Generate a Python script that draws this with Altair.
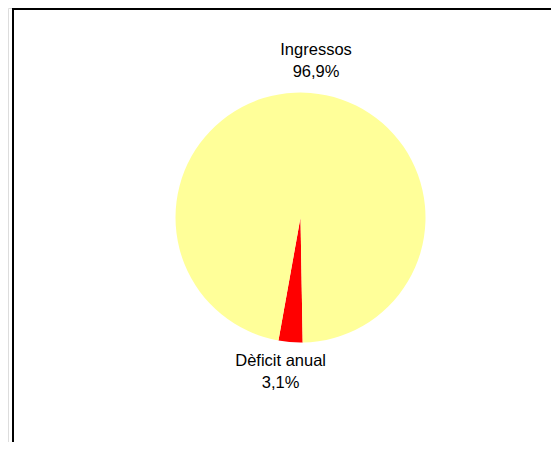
import math
import altair as alt
import pandas as pd

# ---- data ----
categories = ["Dèficit anual", "Ingressos"]
shares = [3.1, 96.9]
pct_labels = ["3,1%", "96,9%"]
slice_colors = ["#FF0000", "#FFFF99"]
order_idx = [0, 1]

df = pd.DataFrame({
    "cat": categories,
    "share": shares,
    "pct": pct_labels,
    "idx": order_idx,
})
df["label"] = df["cat"] + "\n" + df["pct"]

W, H = 543, 434
CX, CY = 292.5, 209.5
R = 125
start = math.radians(179)

theta = alt.Theta("share:Q", stack=True,
                  scale=alt.Scale(range=[start, start + 2 * math.pi]))
color = alt.Color("cat:N", scale=alt.Scale(domain=categories, range=slice_colors),
                  legend=None)
order = alt.Order("idx:Q")

base = alt.Chart(df)

pie = base.mark_arc(outerRadius=R, stroke=None).encode(
    theta=theta, color=color, order=order,
    x=alt.value(CX), y=alt.value(CY),
)

txt_kw = dict(font="Liberation Sans", fontSize=16.5, lineHeight=22,
              lineBreak="\n", align="center", baseline="middle", color="#000000")

# labels use the full stack for their angle; each layer shows one of them
lab_top = base.mark_text(radius=157, dx=3, dy=-11, **txt_kw).encode(
    theta=theta, order=order, text="label:N",
    x=alt.value(CX), y=alt.value(CY),
    opacity=alt.condition(alt.datum.idx == 1, alt.value(1), alt.value(0)),
)
lab_bot = base.mark_text(radius=155, dx=-7.5, dy=-11, **txt_kw).encode(
    theta=theta, order=order, text="label:N",
    x=alt.value(CX), y=alt.value(CY),
    opacity=alt.condition(alt.datum.idx == 0, alt.value(1), alt.value(0)),
)

top_rule = base.mark_rule(color="#000000", strokeWidth=2).encode(
    x=alt.value(5), x2=alt.value(W), y=alt.value(1)
)
left_rule = base.mark_rule(color="#000000", strokeWidth=2).encode(
    x=alt.value(5), y=alt.value(0), y2=alt.value(H)
)

chart = alt.layer(pie, lab_top, lab_bot, top_rule, left_rule).properties(
    width=W, height=H, padding=0, autosize=alt.AutoSizeParams(type="none"),
).configure_view(stroke=None).configure(background="#FFFFFF")

chart.save("out.html", embed_options={"renderer": "svg", "actions": False})
